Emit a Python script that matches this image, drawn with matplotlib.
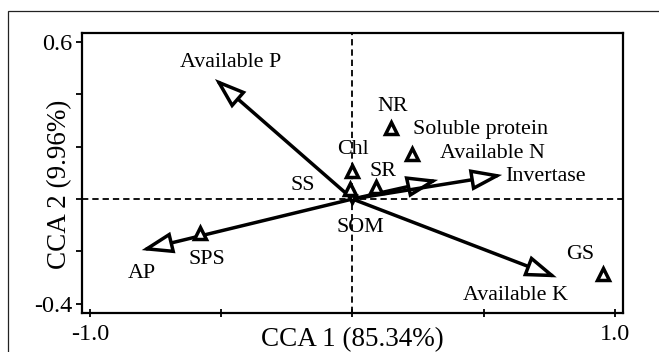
import matplotlib as mpl
import matplotlib.pyplot as plt
from matplotlib.patches import FancyArrowPatch, Rectangle

# environmental factors (arrows from the origin)
env_names = ["Available P", "AP", "Available N", "Invertase", "Available K", "SOM"]
env_x = [-0.524, -0.803, 0.326, 0.570, 0.778, 0.0]
env_y = [0.458, -0.195, 0.073, 0.092, -0.299, -0.030]

# response variables (open triangles)
resp_names = ["NR", "Soluble protein", "Chl", "SR", "SS", "SPS", "GS"]
resp_x = [0.146, 0.225, 0.0, 0.090, -0.010, -0.581, 0.955]
resp_y = [0.271, 0.172, 0.105, 0.047, 0.040, -0.130, -0.286]

xticks = [-1.0, -0.5, 0.0, 0.5, 1.0]
xticklabels = ["-1.0", "", "", "", "1.0"]
yticks = [-0.4, -0.2, 0.0, 0.2, 0.4, 0.6]
yticklabels = ["-0.4", "", "", "", "", "0.6"]

# label placement, offset points from the mark (dx, dy, ha)
env_label_pos = {
    "Available P": (11.5, 12.2, "center"),
    "AP": (0, -16.6, "center"),
    "Available N": (1.5, 18.7, "left"),
    "Invertase": (2.2, -1.4, "left"),
    "Available K": (-29.5, -13.0, "center"),
    "SOM": (5.8, -15.1, "center"),
}
resp_label_pos = {
    "NR": (1.5, 15.8, "center"),
    "Soluble protein": (0.7, 17.3, "left"),
    "Chl": (0, 15.5, "center"),
    "SR": (5.0, 10.8, "center"),
    "SS": (-33.8, 2.5, "center"),
    "SPS": (5.0, -18.7, "center"),
    "GS": (-16.6, 13.7, "center"),
}

mpl.rcParams.update({
    "font.family": ["Liberation Serif", "DejaVu Serif"],
    "axes.unicode_minus": False,
})

fig = plt.figure(figsize=(6.59, 3.52), dpi=100)
ax = fig.add_axes([0.1244, 0.1108, 0.821, 0.7955])

# thin frame around the figure panel
fig.add_artist(Rectangle((8 / 659, -0.2), 2.0, 0.9688 + 0.2, transform=fig.transFigure,
                         fill=False, edgecolor="#222222", linewidth=0.9))

ax.set_xlim(-1.0305, 1.0305)
ax.set_ylim(-0.435, 0.6336)

ax.axhline(0, color="black", linestyle=(0, (3.5, 2.2)), linewidth=1.3, zorder=1)
ax.axvline(0, color="black", linestyle=(0, (3.5, 2.2)), linewidth=1.3, zorder=1)

for name, x, y in zip(env_names, env_x, env_y):
    short = (x ** 2 + y ** 2) ** 0.5 < 0.1
    hl, hw = (5, 2.5) if short else (18, 6.2)
    arr = FancyArrowPatch((0, 0), (x, y),
                          arrowstyle="-|>,head_length={},head_width={}".format(hl, hw),
                          mutation_scale=1, shrinkA=0, shrinkB=0,
                          facecolor="white", edgecolor="black", linewidth=2.5,
                          joinstyle="miter", zorder=3)
    ax.add_patch(arr)
    dx, dy, ha = env_label_pos[name]
    ax.annotate(name, (x, y), xytext=(dx, dy), textcoords="offset points",
                ha=ha, va="center", fontsize=15.8, zorder=5)

ax.plot(resp_x, resp_y, linestyle="none", marker="^", markersize=8.5,
        markerfacecolor="white", markeredgecolor="black", markeredgewidth=2.5, zorder=4)
for name, x, y in zip(resp_names, resp_x, resp_y):
    dx, dy, ha = resp_label_pos[name]
    ax.annotate(name, (x, y), xytext=(dx, dy), textcoords="offset points",
                ha=ha, va="center", fontsize=15.8, zorder=5)

ax.set_xticks(xticks)
ax.set_xticklabels(xticklabels)
ax.set_yticks(yticks)
ax.set_yticklabels(yticklabels)
ax.tick_params(axis="x", direction="inout", length=6, width=1.3, labelsize=17.5, pad=5)
ax.tick_params(axis="y", direction="out", length=4, width=1.3, labelsize=17.5, pad=3)
for s in ax.spines.values():
    s.set_linewidth(1.6)

ax.text(0.5, -0.095, "CCA 1 (85.34%)", transform=ax.transAxes,
        ha="center", va="center", fontsize=19.5)
ax.text(-0.041, 0.46, "CCA 2 (9.96%)", transform=ax.transAxes, rotation=90,
        ha="center", va="center", fontsize=19.5)

fig.savefig("out.png", dpi=100)
